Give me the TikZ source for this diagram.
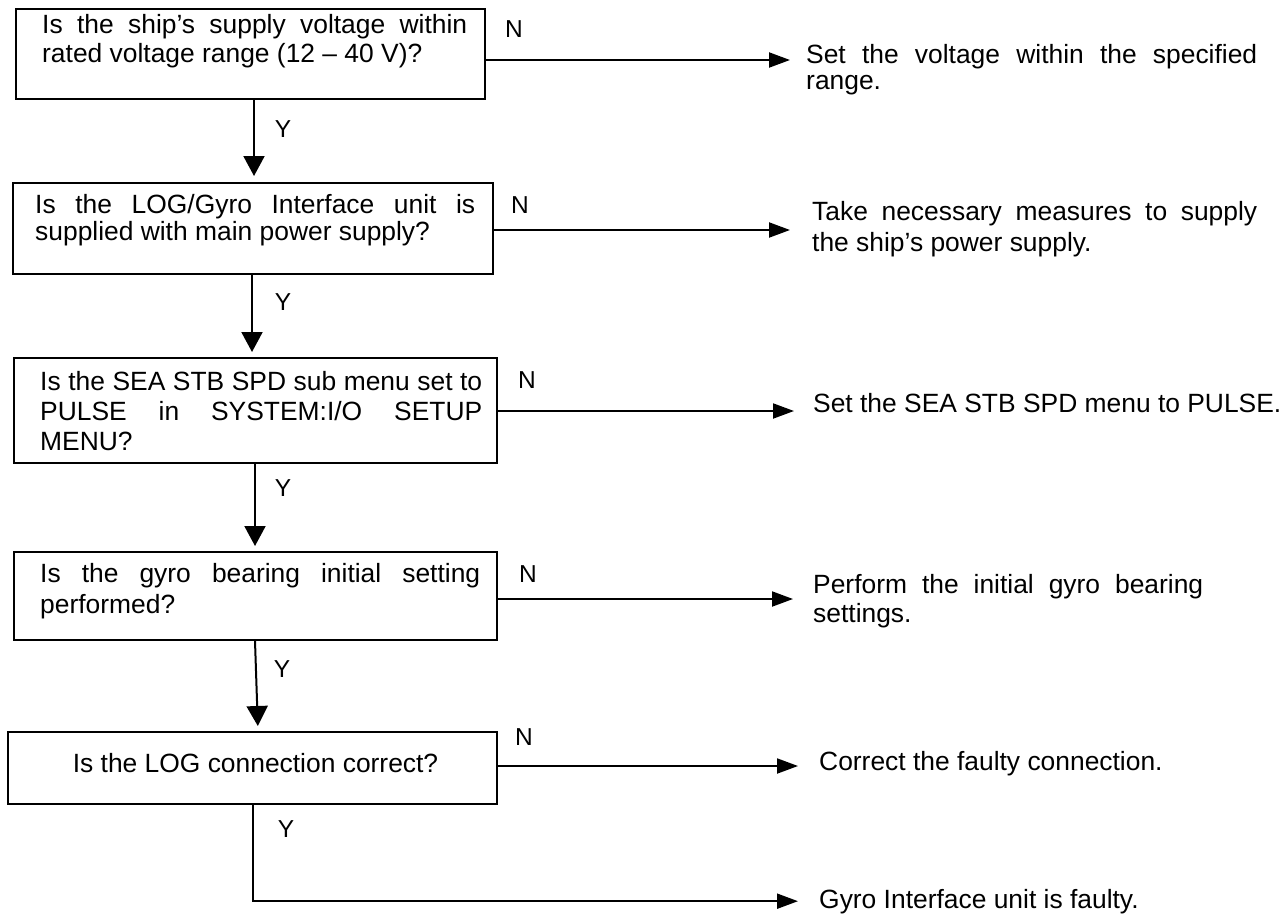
\documentclass[tikz,border=0pt]{standalone}
\usepackage{fontspec}
\setmainfont{Liberation Sans}
\usetikzlibrary{arrows.meta}
\hyphenpenalty=10000
\exhyphenpenalty=10000
\tolerance=10000
\hbadness=10000
\newcommand{\jsp}{\spaceskip=\fontdimen2\font plus 10\fontdimen2\font\relax}
\begin{document}
\begin{tikzpicture}[x=1pt,y=-1pt,
  box/.style={draw, line width=2pt, inner sep=0pt},
  qtext/.style={anchor=base west, inner sep=0pt, align=justify},
  stext/.style={anchor=base west, inner sep=0pt},
  lbl/.style={anchor=base, inner sep=0pt, font=\fontsize{24.5}{28}\selectfont},
  hline/.style={line width=2pt, -{Triangle[length=21pt,width=15pt]}},
  vline/.style={line width=2pt, -{Triangle[length=20pt,width=21pt]}},
  font=\fontsize{26.4}{29}\selectfont
]
\useasboundingbox (0,0) rectangle (1287,913);

% question boxes
\node[box, minimum width=469pt, minimum height=90pt] (q1) at (250.5,54) {};
\node[box, minimum width=480pt, minimum height=91pt] (q2) at (253,228.5) {};
\node[box, minimum width=483pt, minimum height=105pt] (q3) at (255.5,410.5) {};
\node[box, minimum width=483pt, minimum height=88pt] (q4) at (255.5,596) {};
\node[box, minimum width=489pt, minimum height=72pt] (q5) at (252.5,768) {};

% question texts
\node[qtext, text width=425pt, font=\fontsize{26.4}{29}\selectfont\jsp] (t1) at (42,33)
  {Is the ship’s supply voltage within\linebreak rated voltage range (12 – 40 V)?};
\node[qtext, text width=440pt, font=\fontsize{26.4}{27}\selectfont\jsp] (t2) at (35,213)
  {Is the LOG/Gyro Interface unit is\linebreak supplied with main power supply?};
\node[qtext, text width=442pt, font=\fontsize{26.4}{30}\selectfont\jsp] (t3) at (40,390)
  {Is the SEA STB SPD sub menu set to\linebreak PULSE in SYSTEM:I/O SETUP\linebreak MENU?};
\node[qtext, text width=440pt, font=\fontsize{26.4}{31}\selectfont\jsp] (t4) at (40,582)
  {Is the gyro bearing initial setting\linebreak performed?};
\node[anchor=base, inner sep=0pt] (t5) at (255.5,772) {Is the LOG connection correct?};

% action texts
\node[qtext, text width=451pt, font=\fontsize{26.4}{26}\selectfont\jsp] (a1) at (806,63)
  {Set the voltage within the specified\linebreak range.};
\node[qtext, text width=445pt, font=\fontsize{26.4}{31}\selectfont\jsp] (a2) at (812,220)
  {Take necessary measures to supply\linebreak the ship’s power supply.};
\node[stext] (a3) at (813,412) {Set the SEA STB SPD menu to PULSE.};
\node[qtext, text width=390pt, font=\fontsize{26.4}{29}\selectfont\jsp] (a4) at (813,593)
  {Perform the initial gyro bearing\linebreak settings.};
\node[stext] (a5) at (819,770) {Correct the faulty connection.};
\node[stext] (a6) at (819,908) {Gyro Interface unit is faulty.};

% labels
\node[lbl] (n1) at (514,37) {N};
\node[lbl] (n2) at (520,213) {N};
\node[lbl] (n3) at (527,388) {N};
\node[lbl] (n4) at (528,582) {N};
\node[lbl] (n5) at (524,745) {N};
\node[lbl] (y1) at (283,137) {Y};
\node[lbl] (y2) at (283,310) {Y};
\node[lbl] (y3) at (283,496) {Y};
\node[lbl] (y4) at (282,677) {Y};
\node[lbl] (y5) at (286,837) {Y};

% Y connectors
\draw[vline, shorten >=6pt] ([xshift=3.5pt]q1.south) -- ([xshift=3.5pt]q1.south |- q2.north);
\draw[vline, shorten >=5pt] ([xshift=-1pt]q2.south) -- ([xshift=-1pt]q2.south |- q3.north);
\draw[vline, shorten >=5pt] ([xshift=-0.5pt]q3.south) -- ([xshift=-0.5pt]q3.south |- q4.north);
\draw[vline, shorten >=5pt] ([xshift=-0.5pt]q4.south) -- ([xshift=5.5pt]q5.north);
\draw[hline, shorten >=21pt] ([xshift=0.5pt]q5.south) |- (a6.west);

% N connectors
\draw[hline, shorten >=16pt] ([yshift=-6pt]q1.east) -- ([yshift=-6pt]q1.east -| a1.west);
\draw[hline, shorten >=22pt] ([yshift=-1.5pt]q2.east) -- ([yshift=-1.5pt]q2.east -| a2.west);
\draw[hline, shorten >=19pt] ([yshift=-0.5pt]q3.east) -- ([yshift=-0.5pt]q3.east -| a3.west);
\draw[hline, shorten >=20pt] ([yshift=-3pt]q4.east) -- ([yshift=-3pt]q4.east -| a4.west);
\draw[hline, shorten >=21pt] ([yshift=2pt]q5.east) -- ([yshift=2pt]q5.east -| a5.west);
\end{tikzpicture}
\end{document}
